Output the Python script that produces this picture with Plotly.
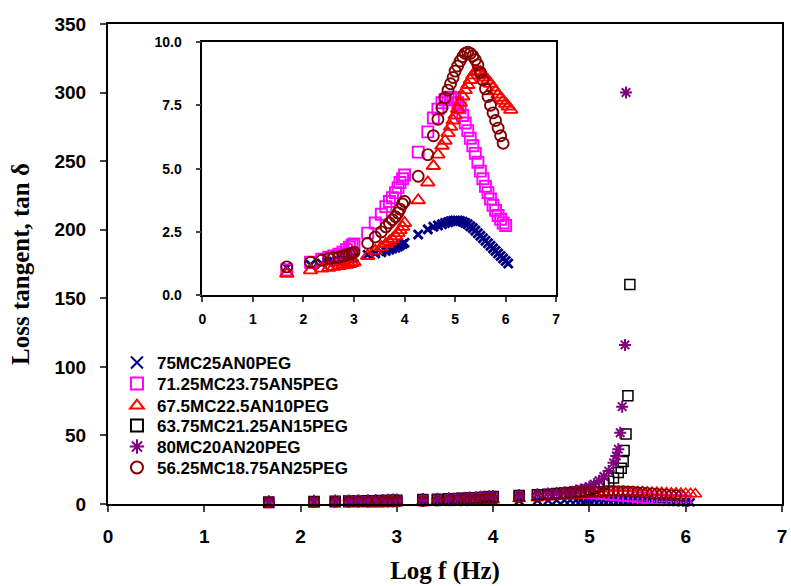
import plotly.graph_objects as go

# ---------------- data (log f in Hz, loss tangent) ----------------
LOGF_LOW = [1.67, 2.14, 2.36, 2.5, 2.6, 2.7, 2.78, 2.85, 2.91, 2.96, 3.0,
            3.27, 3.42, 3.54, 3.63, 3.7, 3.76, 3.82, 3.87, 3.91, 3.96, 4.0,
            4.27, 4.46, 4.57, 4.66, 4.74, 4.8, 4.86, 4.91, 4.96]
LOGF_HIGH = [5.0, 5.05, 5.1, 5.15, 5.2, 5.25, 5.3, 5.35, 5.4, 5.45, 5.5,
             5.55, 5.6, 5.65, 5.7, 5.75, 5.8, 5.85, 5.9, 5.95, 6.0, 6.05, 6.1]

names = ["75MC25AN0PEG", "71.25MC23.75AN5PEG", "67.5MC22.5AN10PEG",
         "63.75MC21.25AN15PEG", "80MC20AN20PEG", "56.25MC18.75AN25PEG"]

# 75MC25AN0PEG
x_s1 = LOGF_LOW + LOGF_HIGH[:22]
y_s1 = [1.1, 1.2, 1.25, 1.3, 1.32, 1.35, 1.38, 1.42, 1.45, 1.48, 1.5,
        1.6, 1.65, 1.7, 1.75, 1.8, 1.85, 1.88, 1.92, 1.97, 2.02, 2.07,
        2.4, 2.6, 2.7, 2.75, 2.8, 2.85, 2.88, 2.92, 2.94,
        2.95, 2.95, 2.93, 2.9, 2.85, 2.8, 2.72, 2.65, 2.55, 2.45, 2.35,
        2.25, 2.15, 2.05, 1.95, 1.85, 1.75, 1.65, 1.55, 1.45, 1.35, 1.25]

# 71.25MC23.75AN5PEG
x_s2 = LOGF_LOW + LOGF_HIGH[:21]
y_s2 = [1.0, 1.3, 1.42, 1.5, 1.55, 1.62, 1.7, 1.8, 1.9, 1.97, 2.02,
        2.45, 2.85, 3.2, 3.5, 3.7, 3.85, 4.05, 4.25, 4.45, 4.6, 4.75,
        5.65, 6.45, 7.0, 7.35, 7.6, 7.72, 7.8, 7.82, 7.8,
        7.75, 7.6, 7.4, 7.1, 6.8, 6.5, 6.2, 5.9, 5.6, 5.25, 4.9,
        4.6, 4.3, 4.05, 3.8, 3.55, 3.35, 3.15, 3.0, 2.85, 2.75]

# 67.5MC22.5AN10PEG
x_s3 = LOGF_LOW + LOGF_HIGH
y_s3 = [0.85, 0.98, 1.05, 1.08, 1.12, 1.15, 1.18, 1.2, 1.23, 1.27, 1.3,
        1.55, 1.75, 1.9, 2.02, 2.12, 2.22, 2.33, 2.45, 2.57, 2.7, 2.85,
        3.75, 4.45, 5.1, 5.55, 5.9, 6.1, 6.4, 6.65, 6.9,
        7.1, 7.35, 7.6, 7.85, 8.1, 8.3, 8.5, 8.68, 8.82, 8.85, 8.8,
        8.7, 8.6, 8.48, 8.35, 8.2, 8.05, 7.92, 7.8, 7.68, 7.56, 7.45, 7.32]

# 63.75MC21.25AN15PEG (main plot only)
x_s4 = LOGF_LOW + [5.0, 5.05, 5.1, 5.15, 5.2, 5.25, 5.3, 5.33, 5.35, 5.36, 5.38, 5.4, 5.42]
y_s4 = [1.5, 1.8, 2.0, 2.1, 2.2, 2.3, 2.4, 2.5, 2.6, 2.7, 2.8,
        3.2, 3.5, 3.8, 4.0, 4.2, 4.4, 4.6, 4.8, 5.0, 5.2, 5.4,
        6.2, 6.8, 7.2, 7.6, 8.0, 8.4, 8.8, 9.3, 9.8,
        10.5, 11.5, 12.8, 14.5, 16.5, 19.0, 23.0, 26.0, 31.0, 39.0, 51.0, 79.0, 160.0]

# 80MC20AN20PEG (main plot only)
x_s5 = LOGF_LOW + [5.0, 5.05, 5.1, 5.15, 5.2, 5.25, 5.28, 5.3, 5.32, 5.34, 5.37, 5.38]
y_s5 = [2.0, 2.3, 2.5, 2.6, 2.7, 2.8, 2.9, 3.0, 3.1, 3.2, 3.3,
        3.6, 3.9, 4.2, 4.4, 4.6, 4.8, 5.0, 5.2, 5.4, 5.6, 5.8,
        6.6, 7.2, 7.6, 8.0, 8.5, 9.0, 9.8, 10.6, 11.5,
        12.5, 14.5, 17.0, 20.0, 24.0, 30.0, 35.0, 40.0, 52.0, 71.0, 116.0, 300.0]

# 56.25MC18.75AN25PEG
x_s6 = LOGF_LOW + LOGF_HIGH[:20]
y_s6 = [1.12, 1.3, 1.38, 1.45, 1.48, 1.5, 1.55, 1.6, 1.63, 1.66, 1.7,
        2.05, 2.3, 2.5, 2.7, 2.85, 2.98, 3.1, 3.25, 3.4, 3.6, 3.7,
        4.7, 5.55, 6.3, 6.95, 7.4, 7.8, 8.1, 8.35, 8.6,
        8.85, 9.05, 9.25, 9.42, 9.55, 9.6, 9.55, 9.45, 9.3, 9.1, 8.8,
        8.5, 8.15, 7.85, 7.5, 7.2, 6.9, 6.6, 6.3, 6.0]

xs = [x_s1, x_s2, x_s3, x_s4, x_s5, x_s6]
ys = [y_s1, y_s2, y_s3, y_s4, y_s5, y_s6]
colors = ["#000080", "#FF00FF", "#FF0000", "#000000", "#800080", "#800000"]
symbols = ["x-thin-open", "square-open", "triangle-up-open", "square-open",
           "asterisk-open", "circle-open"]
sizes = [8, 10, 11, 10, 10, 10]
lwidths = [2.5, 1.5, 1.5, 1.5, 2.0, 1.5]
in_inset = [True, True, True, False, False, True]

X_TICKS = [0, 1, 2, 3, 4, 5, 6, 7]
Y_TICKS = [0, 50, 100, 150, 200, 250, 300, 350]
Y2_TICKS = [0, 2.5, 5.0, 7.5, 10.0]

# legend rows (paper y)
legend_y = [0.2938, 0.2500, 0.2042, 0.1625, 0.1188, 0.0750]

fig = go.Figure()
for i in range(6):
    lg = "legend" if i == 0 else f"legend{i+1}"
    fig.add_trace(go.Scatter(
        x=xs[i], y=ys[i], mode="markers", name=names[i],
        marker=dict(symbol=symbols[i], size=sizes[i], color=colors[i],
                    line=dict(width=lwidths[i], color=colors[i])),
        cliponaxis=False, legend=lg, xaxis="x", yaxis="y"))
for i in range(6):
    if in_inset[i]:
        fig.add_trace(go.Scatter(
            x=xs[i], y=ys[i], mode="markers", name=names[i], showlegend=False,
            marker=dict(symbol=symbols[i], size=sizes[i] + 1, color=colors[i],
                        line=dict(width=lwidths[i] + 0.4, color=colors[i])),
            xaxis="x2", yaxis="y2"))

tickfont_main = dict(family="Liberation Sans, Arial", size=19, color="black", weight="bold")
tickfont_in = dict(family="Liberation Sans, Arial", size=14, color="black", weight="bold")
titlefont = dict(family="Liberation Serif, Times New Roman", size=25, color="black", weight="bold")

layout = dict(
    width=791, height=586,
    margin=dict(l=108, r=5, t=24, b=82),
    paper_bgcolor="white", plot_bgcolor="white",
    xaxis=dict(range=[0, 7], tickvals=X_TICKS, ticks="outside", ticklen=6, tickwidth=2,
               showline=True, linewidth=2, linecolor="black", mirror=True,
               showgrid=False, zeroline=False, tickfont=tickfont_main,
               ticklabelstandoff=8,
               title=dict(text="Log f (Hz)", font=titlefont, standoff=16)),
    yaxis=dict(range=[0, 350], tickvals=Y_TICKS, ticks="outside", ticklen=6, tickwidth=2,
               showline=True, linewidth=2, linecolor="black", mirror=True,
               showgrid=False, zeroline=False, tickfont=tickfont_main,
               ticklabelstandoff=10,
               title=dict(text="Loss tangent, tan δ", font=titlefont, standoff=18)),
    xaxis2=dict(domain=[0.140, 0.665], anchor="y2", range=[0, 7], tickvals=X_TICKS,
                ticks="outside", ticklen=5, tickwidth=1.5,
                showline=True, linewidth=1.5, linecolor="black", mirror=True,
                showgrid=False, zeroline=False, tickfont=tickfont_in,
                ticklabelstandoff=5),
    yaxis2=dict(domain=[0.435, 0.9625], anchor="x2", range=[0, 10], tickvals=Y2_TICKS,
                tickformat=".1f", ticks="outside", ticklen=5, tickwidth=1.5,
                showline=True, linewidth=1.5, linecolor="black", mirror=True,
                showgrid=False, zeroline=False, tickfont=tickfont_in,
                ticklabelstandoff=11),
)
legfont = dict(family="Liberation Sans, Arial", size=17, color="black", weight="bold")
for i in range(6):
    key = "legend" if i == 0 else f"legend{i+1}"
    layout[key] = dict(x=0.0133, y=legend_y[i], xanchor="left", yanchor="middle",
                       bgcolor="rgba(0,0,0,0)", borderwidth=0, font=legfont,
                       itemsizing="constant")
fig.update_layout(**layout)

fig.write_html("out.html")
